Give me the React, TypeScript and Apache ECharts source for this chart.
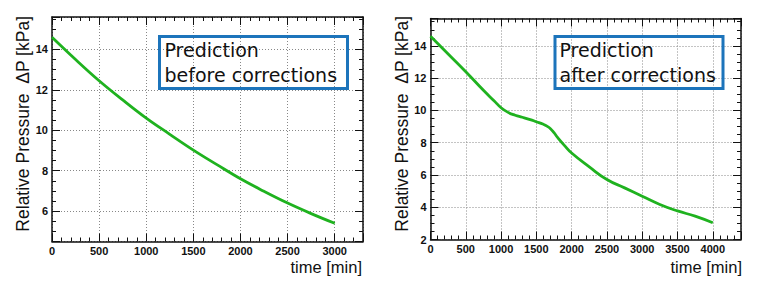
import React, { useEffect, useRef } from "react";
import * as echarts from "echarts";

const leftTime = [0, 250, 500, 750, 1000, 1250, 1500, 1750, 2000, 2250, 2500, 2750, 3000];
const leftPressure = [14.6, 13.5, 12.45, 11.5, 10.6, 9.8, 9.02, 8.3, 7.6, 6.98, 6.4, 5.88, 5.4];

const rightTime = [0, 250, 500, 750, 900, 1000, 1100, 1200, 1300, 1400, 1500, 1600, 1650, 1700, 1750, 1800, 1900, 2000, 2250, 2500, 2750, 3000, 3250, 3500, 3750, 4000];
const rightPressure = [14.6, 13.5, 12.4, 11.25, 10.6, 10.17, 9.88, 9.7, 9.58, 9.45, 9.3, 9.14, 9.03, 8.87, 8.62, 8.33, 7.82, 7.36, 6.5, 5.72, 5.2, 4.68, 4.17, 3.77, 3.45, 3.04];

const xTitle = "time [min]";
const yTitle = "Relative Pressure  ΔP [kPa]";
const boxLeftText = "Prediction\nbefore corrections";
const boxRightText = "Prediction\nafter corrections";

const LINE_COLOR = "#1fb21f";
const BOX_COLOR = "#1c74bb";
const TICK_FONT = "Liberation Sans";

function xFmt(v: number) {
  return v % 500 === 0 ? String(v) : "";
}
function yFmt(v: number) {
  const r = Math.round(v);
  return Math.abs(v - r) < 1e-6 && r % 2 === 0 ? String(r) : "";
}

function mkAxis(kind: "x" | "y", gridIndex: number, primary: boolean, min: number, max: number, interval: number | undefined, minorSplit: number) {
  const ax: any = {
    type: "value",
    gridIndex,
    min,
    max,
    position: kind === "x" ? (primary ? "bottom" : "top") : primary ? "left" : "right",
    axisLine: { show: true, onZero: false, lineStyle: { color: "#111", width: 1.5 } },
    axisTick: { show: true, inside: true, length: 8, lineStyle: { color: "#111", width: 1 } },
    minorTick: { show: true, splitNumber: minorSplit, length: 4, lineStyle: { color: "#111", width: 1 } },
    axisLabel: primary
      ? {
          show: true,
          fontFamily: TICK_FONT,
          fontWeight: "bold",
          fontSize: 11,
          color: "#111",
          margin: 4,
          formatter: kind === "x" ? xFmt : yFmt,
        }
      : { show: false },
    splitLine: primary
      ? { show: true, lineStyle: { type: [1, 2], color: "#888", width: 1 } }
      : { show: false },
    minorSplitLine: { show: false },
  };
  if (interval !== undefined) ax.interval = interval;
  else ax.splitNumber = 5;
  return ax;
}

export default function App() {
  const ref = useRef<HTMLDivElement>(null);
  useEffect(() => {
    if (!ref.current) return;
    const chart = echarts.init(ref.current, undefined, { renderer: "svg" });
    const option: any = {
      animation: false,
      backgroundColor: "#fff",
      grid: [
        { left: 52, top: 17, width: 311, height: 224.5 },
        { left: 430.5, top: 18.5, width: 310.5, height: 221 },
      ],
      xAxis: [
        mkAxis("x", 0, true, 0, 3300, 500, 5),
        mkAxis("x", 0, false, 0, 3300, 500, 5),
        mkAxis("x", 1, true, 0, 4400, 500, 5),
        mkAxis("x", 1, false, 0, 4400, 500, 5),
      ],
      yAxis: [
        mkAxis("y", 0, true, 4.5, 15.6, undefined, 4),
        mkAxis("y", 0, false, 4.5, 15.6, undefined, 4),
        mkAxis("y", 1, true, 2, 15.7, 2, 4),
        mkAxis("y", 1, false, 2, 15.7, 2, 4),
      ],
      series: [
        {
          type: "line",
          xAxisIndex: 0,
          yAxisIndex: 0,
          data: leftTime.map((t, i) => [t, leftPressure[i]]),
          smooth: 0.4,
          showSymbol: false,
          lineStyle: { color: LINE_COLOR, width: 2.8 },
        },
        {
          type: "line",
          xAxisIndex: 2,
          yAxisIndex: 2,
          data: rightTime.map((t, i) => [t, rightPressure[i]]),
          smooth: 0.5,
          showSymbol: false,
          lineStyle: { color: LINE_COLOR, width: 2.8 },
        },
      ],
      graphic: [
        {
          type: "rect",
          shape: { x: 159.5, y: 36.5, width: 188, height: 52 },
          style: { fill: "rgba(0,0,0,0)", stroke: BOX_COLOR, lineWidth: 3 },
          z: 10,
        },
        {
          type: "text",
          x: 164.5,
          y: 37.5,
          style: { text: boxLeftText, font: '19px "DejaVu Sans"', fill: "#111", lineHeight: 25, verticalAlign: "top", align: "left" },
          z: 10,
        },
        {
          type: "rect",
          shape: { x: 555, y: 36.5, width: 168, height: 52 },
          style: { fill: "rgba(0,0,0,0)", stroke: BOX_COLOR, lineWidth: 3 },
          z: 10,
        },
        {
          type: "text",
          x: 559.5,
          y: 37.5,
          style: { text: boxRightText, font: '19px "DejaVu Sans"', fill: "#111", lineHeight: 25, verticalAlign: "top", align: "left" },
          z: 10,
        },
        {
          type: "text",
          x: 23,
          y: 16,
          rotation: Math.PI / 2,
          style: { text: yTitle, font: '17.5px "Liberation Sans"', fill: "#111", align: "right", verticalAlign: "middle" },
        },
        {
          type: "text",
          x: 402,
          y: 16,
          rotation: Math.PI / 2,
          style: { text: yTitle, font: '17.5px "Liberation Sans"', fill: "#111", align: "right", verticalAlign: "middle" },
        },
        {
          type: "text",
          x: 362,
          y: 267,
          style: { text: xTitle, font: '16.5px "Liberation Sans"', fill: "#111", align: "right", verticalAlign: "middle" },
        },
        {
          type: "text",
          x: 742,
          y: 267,
          style: { text: xTitle, font: '16.5px "Liberation Sans"', fill: "#111", align: "right", verticalAlign: "middle" },
        },
      ],
    };
    chart.setOption(option);
    return () => chart.dispose();
  }, []);
  return <div ref={ref} style={{ position: "fixed", left: 0, top: 0, width: 762, height: 286 }} />;
}
